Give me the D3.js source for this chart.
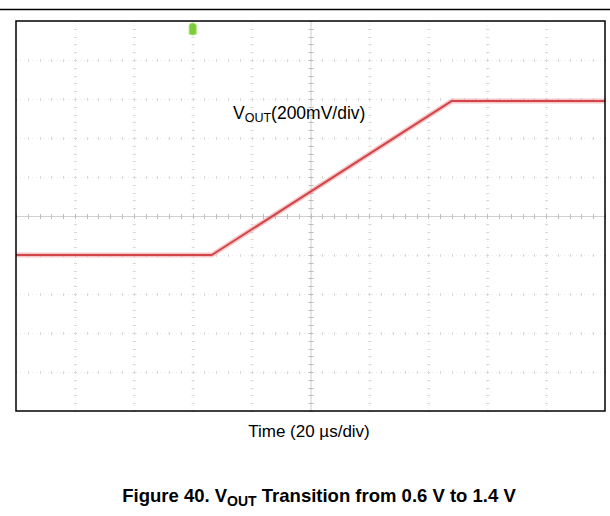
<!DOCTYPE html>
<html><head><meta charset="utf-8">
<script src="https://cdn.jsdelivr.net/npm/d3@7"></script>
<style>body{margin:0;background:#fff}svg{display:block}</style>
</head><body>
<script>
// Data read from the scope capture
const timeUs = [0, 66.5, 148, 200];          // µs
const voutV  = [0.6, 0.6, 1.39, 1.39];       // V
const timeDomain = [0, 200];                 // 20 µs/div, 10 div
const voltDomain = [-0.2, 1.8];              // 200 mV/div, 10 div
const triggerUs = 60;
const xLabel = "Time (20 µs/div)";
const titlePre = "Figure 40. V", titleSub = "OUT", titlePost = " Transition from 0.6 V to 1.4 V";

const W = 610, H = 516;
const L = 16, R = 605, T = 21, B = 411;
const svg = d3.select("body").append("svg").attr("width", W).attr("height", H);

const x = d3.scaleLinear().domain(timeDomain).range([L, R]);
const y = d3.scaleLinear().domain(voltDomain).range([B, T]);

// top rule
svg.append("line").attr("x1",0).attr("x2",W).attr("y1",9.5).attr("y2",9.5)
  .attr("stroke","#000").attr("stroke-width",1.3);

const g = svg.append("g");
const xMajor = d3.range(20, 200, 20);
const yMajor = d3.range(0, 1.8, 0.2).map(v => +v.toFixed(2));
const xMinor = d3.range(0, 200.01, 4);
const yMinor = d3.range(-0.2, 1.8001, 0.04).map(v => +v.toFixed(3));

// faint grid lines
g.selectAll(".vg").data(xMajor).join("line")
  .attr("x1", d => x(d)+0.5).attr("x2", d => x(d)+0.5).attr("y1", T).attr("y2", B)
  .attr("stroke", "#ececec").attr("stroke-dasharray", "1,3");
g.selectAll(".hg").data(yMajor).join("line")
  .attr("y1", d => Math.round(y(d))+0.5).attr("y2", d => Math.round(y(d))+0.5).attr("x1", L).attr("x2", R)
  .attr("stroke", "#ececec").attr("stroke-dasharray", "1,3");

// minor marks on grid lines
xMajor.forEach(xv => {
  g.selectAll(null).data(yMinor).join("line")
    .attr("x1", x(xv)-1).attr("x2", x(xv)+2)
    .attr("y1", d => Math.round(y(d))+0.5).attr("y2", d => Math.round(y(d))+0.5)
    .attr("stroke", "#d8d8d8");
});
yMajor.forEach(yv => {
  g.selectAll(null).data(xMinor).join("line")
    .attr("y1", y(yv)-1).attr("y2", y(yv)+2)
    .attr("x1", d => Math.round(x(d))+0.5).attr("x2", d => Math.round(x(d))+0.5)
    .attr("stroke", "#d8d8d8");
});

// center axes with ticks
const cx = x(100), cy = y(0.8);
g.append("line").attr("x1", cx+0.5).attr("x2", cx+0.5).attr("y1", T).attr("y2", B).attr("stroke", "#d0d0d0");
g.append("line").attr("y1", Math.round(cy)+0.5).attr("y2", Math.round(cy)+0.5).attr("x1", L).attr("x2", R).attr("stroke", "#d0d0d0");
g.selectAll(".ct").data(yMinor).join("line")
  .attr("x1", cx-2).attr("x2", cx+3)
  .attr("y1", d => Math.round(y(d))+0.5).attr("y2", d => Math.round(y(d))+0.5)
  .attr("stroke", "#bdbdbd");
g.selectAll(".ctx").data(xMinor).join("line")
  .attr("y1", cy-2).attr("y2", cy+3)
  .attr("x1", d => Math.round(x(d))+0.5).attr("x2", d => Math.round(x(d))+0.5)
  .attr("stroke", "#bdbdbd");

// trace
const data = timeUs.map((t, i) => [t, voutV[i]]);
const line = d3.line().x(d => x(d[0])).y(d => y(d[1]));
svg.append("path").datum(data).attr("d", line).attr("fill", "none")
  .attr("stroke", "rgba(235,130,130,0.45)").attr("stroke-width", 5).attr("stroke-linejoin","round");
svg.append("path").datum(data).attr("d", line).attr("fill", "none")
  .attr("stroke", "#d2454a").attr("stroke-width", 2).attr("stroke-linejoin","round");

// trigger marker
const tx = x(triggerUs);
svg.append("path")
  .attr("d", `M${tx-3.5},${T+4} Q${tx},${T} ${tx+3.5},${T+4} L${tx+3.5},${T+13} Q${tx},${T+15} ${tx-3.5},${T+13} Z`)
  .attr("fill", "#7ccc3c").attr("stroke", "#9ee06a").attr("stroke-width", 1);

// frame
svg.append("rect").attr("x", L).attr("y", T).attr("width", R-L).attr("height", B-T)
  .attr("fill", "none").attr("stroke", "#000").attr("stroke-width", 1.5);

// trace label
const lab = svg.append("text").attr("x", 233).attr("y", 119)
  .attr("font-family", "Liberation Sans, Arial, sans-serif").attr("font-size", 17.5).attr("fill", "#000");
lab.append("tspan").text("V");
lab.append("tspan").attr("font-size", 12.5).attr("dy", 3).text("OUT");
lab.append("tspan").attr("dy", -3).text("(200mV/div)");

// x label
svg.append("text").attr("x", 309).attr("y", 437).attr("text-anchor", "middle")
  .attr("font-family", "Liberation Sans, Arial, sans-serif").attr("font-size", 17).attr("fill", "#000")
  .text(xLabel);

// title
const tt = svg.append("text").attr("x", 319).attr("y", 502).attr("text-anchor", "middle")
  .attr("font-family", "Liberation Sans, Arial, sans-serif").attr("font-size", 18.5).attr("font-weight", "bold").attr("fill", "#000");
tt.append("tspan").text(titlePre);
tt.append("tspan").attr("font-size", 14).attr("dy", 4).text(titleSub);
tt.append("tspan").attr("dy", -4).text(titlePost);
</script>
</body></html>
